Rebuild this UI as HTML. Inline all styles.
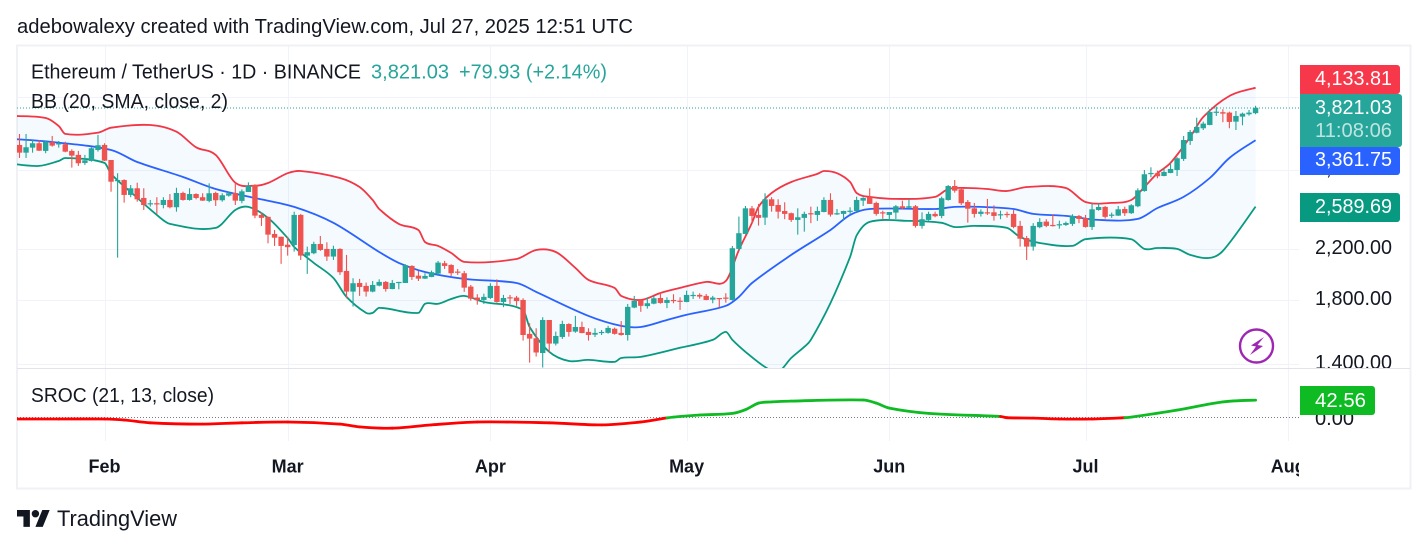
<!DOCTYPE html>
<html lang="en">
<head>
<meta charset="utf-8">
<title>Ethereum / TetherUS chart</title>
<style>
html,body{margin:0;padding:0;background:#fff;width:1428px;height:549px;overflow:hidden}
svg{display:block;font-family:"Liberation Sans",sans-serif}
</style>
</head>
<body>
<svg id="chart" xmlns="http://www.w3.org/2000/svg" width="1428" height="549" viewBox="0 0 1428 549">
  <defs>
    <clipPath id="main-clip"><rect x="17" y="46" width="1283" height="322"/></clipPath>
    <clipPath id="sroc-clip"><rect x="17" y="369" width="1283" height="72"/></clipPath>
    <clipPath id="axis-clip"><rect x="1300" y="46" width="110" height="322"/></clipPath>
    <clipPath id="time-clip"><rect x="17" y="442" width="1282" height="46"/></clipPath>
    <clipPath id="label-clip"><rect x="1300" y="46" width="110" height="440"/></clipPath>
  </defs>
  <text x="17" y="33" font-size="20" fill="#131722" textLength="616" lengthAdjust="spacingAndGlyphs">adebowalexy created with TradingView.com, Jul 27, 2025 12:51 UTC</text>
  <rect x="17" y="45.5" width="1393.5" height="443" fill="none" stroke="#f0f1f4" stroke-width="2"/>
  <g id="grid"></g>
  <g id="main-pane" clip-path="url(#main-clip)"></g>
  <line x1="17" x2="1300" y1="108" y2="108" stroke="#26a69a" stroke-width="1" stroke-dasharray="1 2"/>
  <line x1="17" x2="1410" y1="368.5" y2="368.5" stroke="#e0e3eb" stroke-width="1"/>
  <line x1="17" x2="1300" y1="417.5" y2="417.5" stroke="#787b86" stroke-width="1" stroke-dasharray="1 2"/>
  <g id="sroc-pane" clip-path="url(#sroc-clip)"></g>
  <g id="price-ticks" clip-path="url(#axis-clip)"></g>
  <text x="1315" y="425" font-size="20" fill="#131722" textLength="39" lengthAdjust="spacingAndGlyphs">0.00</text>
  <g id="time-axis" clip-path="url(#time-clip)"></g>

  <text x="31" y="78.5" font-size="20" fill="#131722" textLength="330" lengthAdjust="spacingAndGlyphs">Ethereum / TetherUS · 1D · BINANCE</text>
  <text x="371" y="78.5" font-size="20" fill="#26a69a" textLength="78" lengthAdjust="spacingAndGlyphs">3,821.03</text>
  <text x="459" y="78.5" font-size="20" fill="#26a69a" textLength="148" lengthAdjust="spacingAndGlyphs">+79.93 (+2.14%)</text>
  <text x="31" y="108" font-size="20" fill="#131722" textLength="197" lengthAdjust="spacingAndGlyphs">BB (20, SMA, close, 2)</text>
  <text x="31" y="402" font-size="20" fill="#131722" textLength="183" lengthAdjust="spacingAndGlyphs">SROC (21, 13, close)</text>

  <g clip-path="url(#label-clip)">
    <rect x="1290" y="65" width="110" height="29" rx="3" fill="#f7374a"/>
    <text x="1315" y="85" font-size="20" fill="#fff" textLength="77" lengthAdjust="spacingAndGlyphs">4,133.81</text>
    <rect x="1290" y="147" width="110" height="28" rx="3" fill="#2962ff"/>
    <text x="1315" y="166" font-size="20" fill="#fff" textLength="77" lengthAdjust="spacingAndGlyphs">3,361.75</text>
    <rect x="1290" y="94" width="112" height="53" rx="3" fill="#26a69a"/>
    <text x="1315" y="114" font-size="20" fill="#fff" textLength="77" lengthAdjust="spacingAndGlyphs">3,821.03</text>
    <text x="1315" y="137" font-size="20" fill="#fff" fill-opacity="0.7" textLength="77" lengthAdjust="spacingAndGlyphs">11:08:06</text>
    <rect x="1290" y="193" width="110" height="29" rx="3" fill="#089981"/>
    <text x="1315" y="213" font-size="20" fill="#fff" textLength="77" lengthAdjust="spacingAndGlyphs">2,589.69</text>
    <rect x="1290" y="386" width="85" height="29" rx="3" fill="#0ebb23"/>
    <text x="1315" y="407" font-size="20" fill="#fff" textLength="51" lengthAdjust="spacingAndGlyphs">42.56</text>
  </g>

  <g>
    <circle cx="1256.5" cy="346" r="16.5" fill="#fff" stroke="#9c27b0" stroke-width="2.4"/>
    <path d="M1264 337 L1251 345.5 L1256 346.5 L1250 355 L1263 346 L1257.5 345 Z" fill="#9c27b0"/>
  </g>

  <g>
    <path transform="translate(17 506.2) scale(0.92 0.94)" d="M14 22H7V11H0V4h14v18zM28 22h-8l7.5-18h8L28 22z" fill="#131722"/>
    <circle cx="35.4" cy="513.7" r="3.7" fill="#131722"/>
    <text x="57" y="526" font-size="22" fill="#131722" textLength="120" lengthAdjust="spacingAndGlyphs">TradingView</text>
  </g>
</svg>

<script>
// Candle series: index 0 is Jan 19, index 189 is Jul 27
const opens = [
3301,3202,3266,3323,3224,3336,3310,3310,3224,3174,
3075,3099,3236,3301,3111,2864,2875,2711,2783,2679,
2614,2624,2606,2658,2583,2732,2658,2721,2687,2648,
2732,2655,2704,2732,2648,2743,2819,2506,2487,2325,
2300,2229,2226,2506,2135,2155,2235,2192,2127,2192,
2010,1853,1917,1895,1853,1897,1925,1872,1920,1917,
2050,1973,1950,1963,1989,2072,2058,2005,1992,1890,
1810,1793,1807,1895,1779,1812,1810,1793,1569,1542,
1455,1657,1510,1550,1631,1583,1612,1581,1564,1575,
1575,1601,1575,1562,1740,1791,1750,1767,1807,1772,
1793,1788,1779,1822,1829,1822,1795,1807,1810,1793,
2192,2325,2572,2506,2480,2665,2606,2545,2523,2457,
2477,2523,2506,2535,2658,2516,2516,2538,2545,2651,
2687,2627,2532,2506,2529,2593,2578,2593,2400,2457,
2516,2496,2658,2808,2772,2637,2572,2516,2532,2532,
2503,2516,2516,2400,2288,2212,2388,2441,2409,2406,
2409,2419,2496,2474,2390,2555,2586,2499,2499,2565,
2523,2593,2753,2945,2953,2921,2956,2991,3124,3353,
3463,3525,3571,3749,3755,3749,3618,3690,3725,3741];
const closes = [
3202,3271,3323,3227,3344,3292,3323,3215,3165,3071,
3107,3258,3297,3103,2856,2875,2711,2783,2665,2606,
2624,2617,2658,2583,2732,2658,2721,2679,2651,2729,
2655,2708,2729,2651,2750,2811,2499,2477,2319,2291,
2218,2207,2506,2135,2164,2235,2183,2127,2192,2000,
1853,1915,1887,1853,1902,1925,1872,1917,1925,2056,
1963,1950,1971,2000,2077,2050,1992,1997,1882,1802,
1791,1815,1895,1779,1807,1805,1785,1562,1540,1458,
1657,1510,1556,1631,1581,1612,1574,1562,1575,1581,
1606,1569,1562,1745,1786,1752,1770,1805,1772,1793,
1786,1781,1829,1829,1817,1793,1810,1802,1802,2198,
2332,2572,2496,2477,2665,2596,2538,2516,2457,2483,
2516,2513,2545,2658,2509,2523,2545,2548,2658,2679,
2617,2516,2523,2535,2593,2572,2593,2400,2464,2516,
2493,2676,2808,2757,2624,2568,2516,2538,2526,2496,
2513,2506,2390,2282,2212,2400,2438,2400,2400,2416,
2428,2496,2467,2390,2562,2586,2487,2509,2562,2523,
2603,2761,2941,2956,2918,2968,3003,3132,3366,3474,
3543,3590,3759,3763,3734,3614,3700,3734,3749,3821];
const highs = [
3447,3447,3366,3366,3357,3420,3353,3344,3245,3224,
3174,3271,3434,3323,3111,2953,2883,2819,2845,2783,
2658,2687,2687,2721,2789,2746,2783,2729,2729,2838,
2746,2729,2746,2838,2771,2849,2827,2532,2490,2362,
2300,2300,2538,2516,2212,2255,2307,2250,2220,2198,
2141,1953,1948,1920,1932,1945,1932,1940,1925,2064,
2056,2010,1992,2013,2091,2091,2064,2026,2010,1902,
1834,1838,1915,1945,1829,1829,1822,1805,1636,1604,
1675,1657,1583,1652,1636,1684,1646,1604,1604,1593,
1619,1608,1650,1765,1822,1793,1812,1822,1848,1812,
1834,1812,1860,1853,1841,1836,1822,1807,1841,2218,
2490,2596,2596,2617,2729,2687,2665,2634,2529,2572,
2538,2589,2589,2687,2729,2565,2548,2583,2693,2687,
2783,2640,2548,2535,2606,2651,2665,2606,2532,2538,
2538,2693,2819,2875,2783,2658,2627,2562,2669,2603,
2548,2538,2555,2448,2307,2426,2474,2464,2513,2450,
2441,2513,2506,2506,2624,2624,2596,2529,2596,2589,
2614,2783,2991,3023,2983,3011,3071,3145,3420,3501,
3675,3618,3803,3838,3799,3763,3773,3749,3788,3851];
const lows = [
3136,3136,3202,3224,3195,3279,3266,3207,3019,3039,
3051,3091,3215,3099,2746,2118,2630,2687,2640,2555,
2589,2516,2572,2572,2538,2651,2651,2665,2648,2634,
2596,2640,2693,2606,2624,2743,2474,2400,2241,2218,
2067,2135,2169,2099,1987,2147,2175,2091,2099,1979,
1805,1747,1822,1817,1848,1892,1853,1870,1870,1917,
1940,1932,1948,1961,1971,2026,1969,1979,1851,1788,
1760,1765,1800,1774,1743,1765,1752,1528,1401,1435,
1374,1458,1499,1538,1552,1576,1573,1528,1550,1562,
1570,1564,1558,1528,1736,1711,1733,1763,1767,1736,
1770,1724,1777,1800,1802,1791,1770,1743,1774,1788,
2183,2322,2426,2403,2409,2538,2470,2464,2438,2319,
2346,2426,2448,2532,2490,2506,2457,2516,2538,2596,
2617,2499,2467,2457,2467,2562,2572,2384,2374,2450,
2483,2474,2651,2736,2606,2431,2480,2490,2506,2450,
2464,2480,2378,2212,2099,2177,2378,2388,2394,2374,
2400,2400,2426,2384,2362,2548,2470,2477,2496,2496,
2516,2583,2746,2906,2895,2918,2953,2921,3099,3301,
3455,3501,3567,3700,3610,3525,3501,3567,3704,3725];

// Bollinger bands: day index and price at each reading
const upperDays = [-1,4,6,7,12,14,20,24,27,30,33,36,38,41,43,49,52,54,55,58,61,62,64,66,68,76,79,82,85,87,91,92,95,98,101,105,108,110,112,113,115,118,122,123,125,127,128,130,134,140,142,145,148,151,154,160,163,167,170,172,174,176,179,181,185,189];
const upperBand = [3700,3671,3557,3447,3464,3533,3571,3478,3271,3174,2845,2811,2842,2953,2979,2898,2797,2658,2565,2419,2362,2253,2218,2158,2083,2107,2183,2166,2034,1940,1880,1822,1793,1843,1880,1925,1932,2183,2429,2586,2732,2853,2945,2979,2953,2853,2732,2690,2669,2690,2775,2786,2775,2753,2797,2786,2637,2627,2658,2797,2953,3075,3406,3685,4003,4133.81];
const basisDays = [-1,5,14,18,25,30,36,42,48,55,58,62,68,76,79,87,92,95,99,102,108,110,112,118,124,127,130,140,143,147,152,155,160,165,171,174,178,182,185,189];
const basisBand = [3379,3340,3236,3087,2910,2775,2679,2586,2429,2166,2075,2002,1948,1917,1851,1684,1619,1612,1657,1691,1752,1815,1917,2141,2362,2506,2565,2565,2586,2586,2565,2516,2496,2457,2467,2575,2690,2898,3136,3361.75];
const lowerDays = [-1,3,6,7,13,14,17,21,23,30,33,35,38,41,42,45,48,50,53,54,55,61,62,64,66,68,71,77,78,81,84,87,91,92,95,101,106,108,109,111,114,116,118,120,121,124,127,128,130,136,141,143,146,151,153,156,161,163,170,172,174,177,179,182,184,189];
const lowerBand = [3063,3039,3099,3136,3075,2945,2743,2506,2419,2381,2555,2586,2477,2288,2209,2075,1955,1815,1704,1704,1738,1704,1766,1766,1800,1822,1779,1724,1612,1462,1410,1416,1405,1427,1433,1485,1532,1581,1532,1462,1377,1350,1427,1491,1532,1772,2124,2311,2438,2448,2429,2390,2400,2381,2297,2244,2218,2278,2278,2192,2200,2192,2141,2116,2175,2589.69];

// SROC oscillator readings
const srocDays = [-1,6,13,16,20,28,34,41,49,52,57,63,70,81,89,95,99,100,104,109,111,113,115,118,129,131,133,139,150,151,155,159,164,169,170,177,184,189];
const srocValues = [-3.7,-3.7,-3.7,-6,-13,-16,-13,-11,-16,-23,-26,-18,-11,-13,-18,-11,-1,1,6,10,19,35,38,40,42.8,35,23,10,2.4,-0.5,-1.5,-3.7,-3.7,-0.5,1,18,38,42.56];

// Axis ticks
const priceTicks = [4000,3000,2200,1800,1400];
const priceTickLabels = ["4,000.00","3,000.00","2,200.00","1,800.00","1,400.00"];
const monthDays = [13,41,72,102,133,163,194];
const monthLabels = ["Feb","Mar","Apr","May","Jun","Jul","Aug"];

const SVGNS = "http://www.w3.org/2000/svg";
function xScale(day){ return 19.5 + 6.54 * day; }
function yScale(price){ return 248 - 254 * Math.log(price / 2200); }
function srocY(value){ return 417.5 - 0.41 * value; }
function make(tag, parent){
  const el = document.createElementNS(SVGNS, tag);
  parent.appendChild(el);
  return el;
}
// Smooth cubic segments through a series of points, with chord-proportional tangents
function curveSegments(days, values, yFn){
  const xs = days.map(xScale);
  const ys = values.map(yFn);
  const n = xs.length;
  const segments = [];
  for (let i = 0; i < n - 1; i++){
    const a = Math.max(i - 1, 0);
    const b = Math.min(i + 2, n - 1);
    const dn = Math.abs(xs[i + 1] - xs[i]);
    const dp = Math.abs(xs[i] - xs[a]) || dn;
    const dq = Math.abs(xs[b] - xs[i + 1]) || dn;
    const k1 = 0.33 * dn / (dp + dn);
    const k2 = 0.33 * dn / (dn + dq);
    const c1x = xs[i] + (xs[i + 1] - xs[a]) * k1;
    const c1y = ys[i] + (ys[i + 1] - ys[a]) * k1;
    const c2x = xs[i + 1] - (xs[b] - xs[i]) * k2;
    const c2y = ys[i + 1] - (ys[b] - ys[i]) * k2;
    segments.push({
      start: xs[i].toFixed(1) + " " + ys[i].toFixed(1),
      curve: "C" + c1x.toFixed(1) + " " + c1y.toFixed(1) + " " + c2x.toFixed(1) + " " + c2y.toFixed(1) + " " + xs[i + 1].toFixed(1) + " " + ys[i + 1].toFixed(1)
    });
  }
  return segments;
}
function bandPath(days, values){
  const segs = curveSegments(days, values, yScale);
  return "M" + segs[0].start + segs.map(function(s){ return s.curve; }).join("");
}

const grid = document.getElementById("grid");
priceTicks.forEach(function(v){
  const line = make("line", grid);
  
  
  const y = Math.round(yScale(v) + 1) + 0.5;
  line.setAttribute("x1", 17);
  line.setAttribute("x2", 1299);
  line.setAttribute("y1", y);
  line.setAttribute("y2", y);
  line.setAttribute("stroke", "#f0f3fa");
});
monthDays.forEach(function(d){
  const line = make("line", grid);
  
  
  const x = Math.round(xScale(d)) + 0.5;
  line.setAttribute("x1", x);
  line.setAttribute("x2", x);
  line.setAttribute("y1", 46);
  line.setAttribute("y2", 441);
  line.setAttribute("stroke", "#f0f3fa");
});

const mainPane = document.getElementById("main-pane");
const fillArea = make("path", mainPane);


const lowerBack = bandPath(lowerDays.slice().reverse(), lowerBand.slice().reverse()).replace("M", "L");
fillArea.setAttribute("d", bandPath(upperDays, upperBand) + lowerBack + "Z");
fillArea.setAttribute("fill", "#2196f3");
fillArea.setAttribute("fill-opacity", "0.05");

const upperLine = make("path", mainPane);


upperLine.setAttribute("d", bandPath(upperDays, upperBand));
upperLine.setAttribute("fill", "none");
upperLine.setAttribute("stroke", "#f23645");
upperLine.setAttribute("stroke-width", "1.8");

const basisLine = make("path", mainPane);


basisLine.setAttribute("d", bandPath(basisDays, basisBand));
basisLine.setAttribute("fill", "none");
basisLine.setAttribute("stroke", "#2962ff");
basisLine.setAttribute("stroke-width", "1.8");

const lowerLine = make("path", mainPane);


lowerLine.setAttribute("d", bandPath(lowerDays, lowerBand));
lowerLine.setAttribute("fill", "none");
lowerLine.setAttribute("stroke", "#089981");
lowerLine.setAttribute("stroke-width", "1.8");

opens.forEach(function(open, i){
  const close = closes[i];
  const color = close >= open ? "#26a69a" : "#ef5350";
  const cx = xScale(i);
  const wick = make("line", mainPane);
  
  
  wick.setAttribute("x1", cx);
  wick.setAttribute("x2", cx);
  wick.setAttribute("y1", yScale(highs[i]));
  wick.setAttribute("y2", yScale(lows[i]));
  wick.setAttribute("stroke", color);
  wick.setAttribute("stroke-width", "1.1");
  const body = make("rect", mainPane);
  
  
  const top = yScale(Math.max(open, close));
  const bottom = yScale(Math.min(open, close));
  body.setAttribute("x", cx - 2.7);
  body.setAttribute("width", 5.4);
  body.setAttribute("y", top);
  body.setAttribute("height", Math.max(1.2, bottom - top));
  body.setAttribute("fill", color);
});

const srocPane = document.getElementById("sroc-pane");
curveSegments(srocDays, srocValues, srocY).forEach(function(s, i){
  const seg = make("path", srocPane);
  
  
  seg.setAttribute("d", "M" + s.start + s.curve);
  seg.setAttribute("fill", "none");
  seg.setAttribute("stroke", srocValues[i + 1] >= 0 ? "#0ebb23" : "#ff0000");
  seg.setAttribute("stroke-width", "2.8");
  seg.setAttribute("stroke-linecap", "round");
});

const priceAxis = document.getElementById("price-ticks");
priceTickLabels.forEach(function(label, i){
  const t = make("text", priceAxis);
  
  
  t.setAttribute("x", 1315);
  t.setAttribute("y", yScale(priceTicks[i]) + 6);
  t.setAttribute("font-size", "20");
  t.setAttribute("fill", "#131722");
  t.setAttribute("textLength", "77");
  t.setAttribute("lengthAdjust", "spacingAndGlyphs");
  t.textContent = label;
});

const timeAxis = document.getElementById("time-axis");
monthLabels.forEach(function(label, i){
  const t = make("text", timeAxis);
  
  
  t.setAttribute("x", xScale(monthDays[i]));
  t.setAttribute("y", 472.5);
  t.setAttribute("font-size", "18");
  t.setAttribute("font-weight", "700");
  t.setAttribute("text-anchor", "middle");
  t.setAttribute("fill", "#131722");
  t.textContent = label;
});
</script>
</body>
</html>
